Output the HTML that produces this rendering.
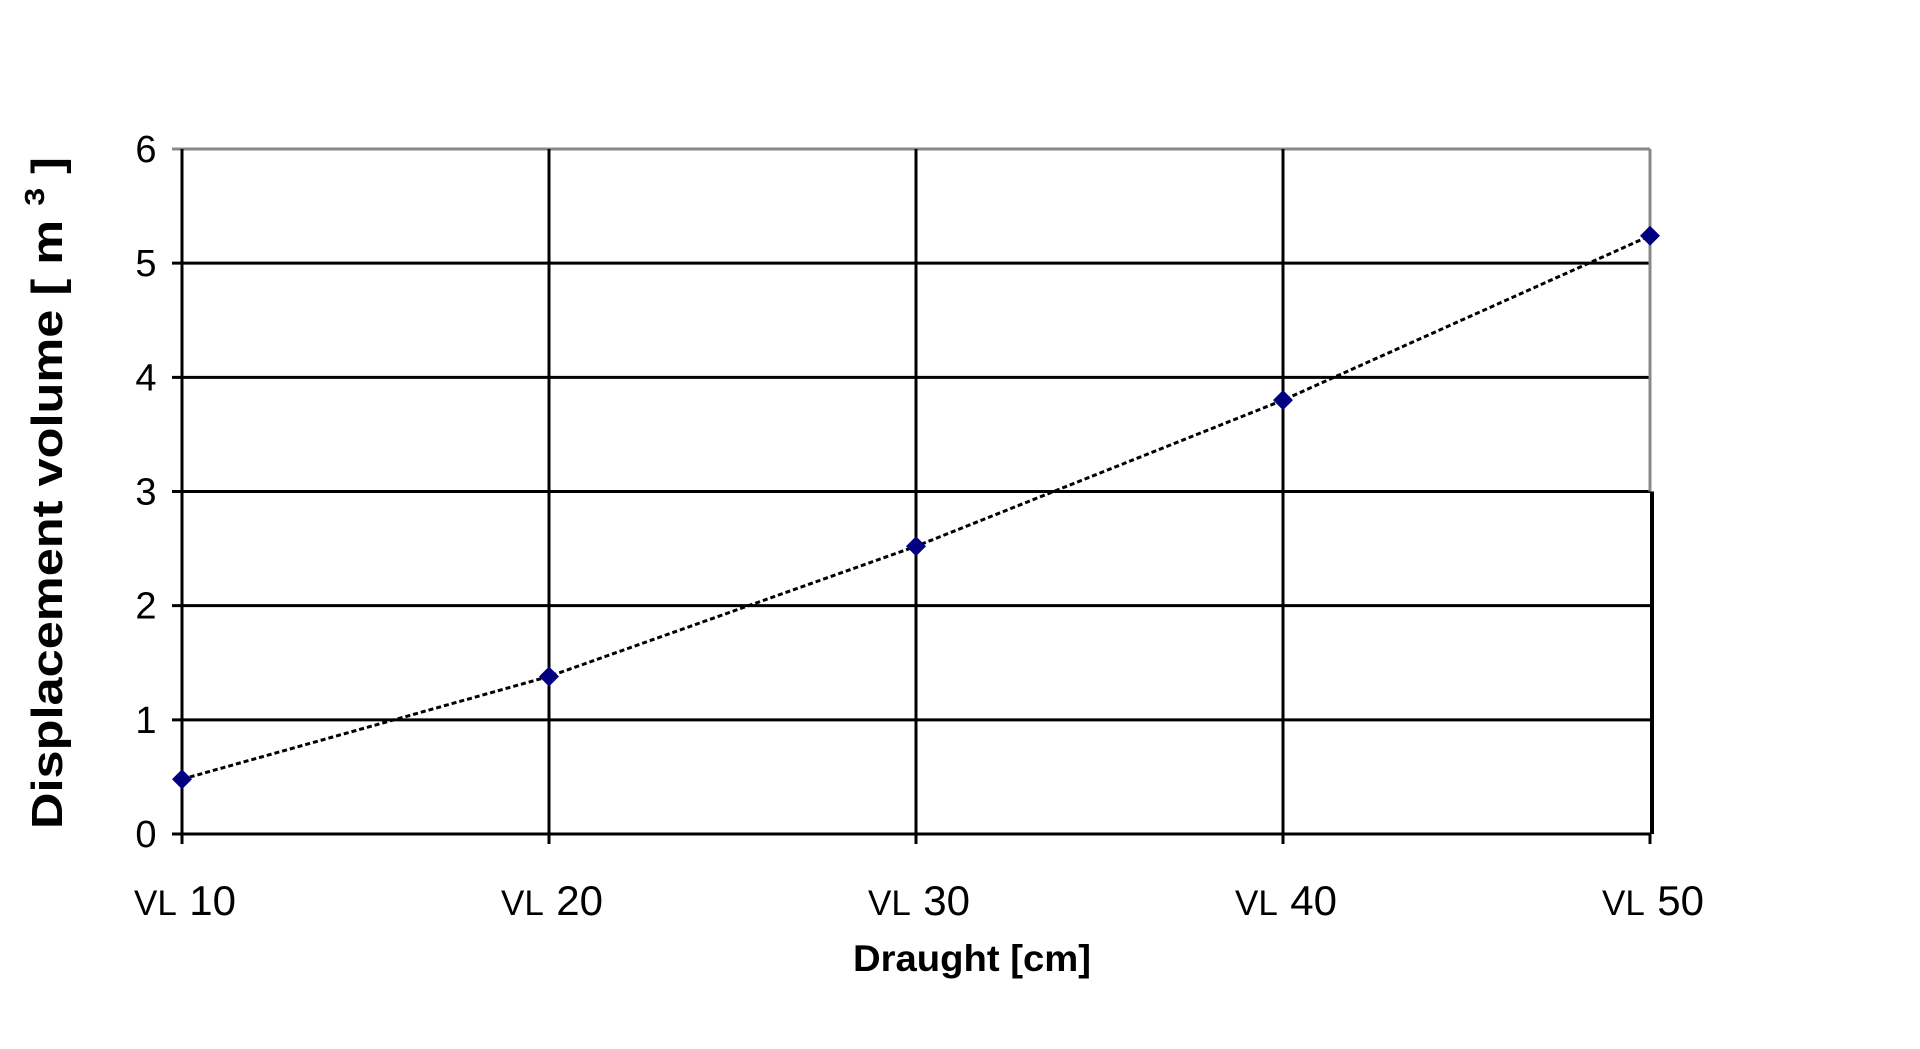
<!DOCTYPE html>
<html><head><meta charset="utf-8"><style>
html,body{margin:0;padding:0;background:#fff;}
svg{display:block;}
text{font-family:"Liberation Sans",Arial,sans-serif;fill:#000;}
</style></head><body>
<svg id="chart" width="1920" height="1049" viewBox="0 0 1920 1049" xmlns="http://www.w3.org/2000/svg">
<g id="grid"></g>
<g id="axes"></g>
<g id="series"></g>
<text x="972" y="971" text-anchor="middle" font-size="37" font-weight="bold" textLength="238" lengthAdjust="spacingAndGlyphs">Draught [cm]</text>
<text transform="translate(62,493) rotate(-90)" text-anchor="middle" font-size="44" font-weight="bold" textLength="672" lengthAdjust="spacingAndGlyphs">Displacement volume  [ m <tspan font-size="28" dy="-18">3</tspan><tspan dy="18"> ]</tspan></text>
</svg>
<script>
const categories = ["10", "20", "30", "40", "50"];
const values = [0.48, 1.38, 2.52, 3.8, 5.24];
const yTicks = [0, 1, 2, 3, 4, 5, 6];

const NS = "http://www.w3.org/2000/svg";
const X0 = 182, X1 = 1650, Y0 = 834, Y1 = 149, YMAX = 6;
function xPos(i){ return X0 + (X1 - X0) * i / (categories.length - 1); }
function yPos(v){ return Y0 - (Y0 - Y1) * v / YMAX; }
function mk(tag, attrs, parent){
  const el = document.createElementNS(NS, tag);
  for (const k in attrs) el.setAttribute(k, attrs[k]);
  parent.appendChild(el);
  return el;
}
const grid = document.getElementById('grid');
const axes = document.getElementById('axes');
const series = document.getElementById('series');

yTicks.forEach(function(t){
  const y = yPos(t);
  const top = t === YMAX;
  const ln = mk('line', {x1: X0 - 10, x2: X1, y1: y, y2: y, stroke: top ? '#888' : '#000', 'stroke-width': 3}, grid);
  
  
  const lb = mk('text', {x: 146, y: y + 13, 'text-anchor': 'middle', 'font-size': 38}, axes);
  lb.textContent = t;
  
  
});

categories.forEach(function(c, i){
  const x = xPos(i);
  const last = i === categories.length - 1;
  if (last) {
    const g1 = mk('line', {x1: x, x2: x, y1: Y1, y2: yPos(3), stroke: '#888', 'stroke-width': 3}, grid);
    
    
    const g2 = mk('line', {x1: x + 2, x2: x + 2, y1: yPos(3), y2: Y0, stroke: '#000', 'stroke-width': 4}, grid);
    
    
    const tk = mk('line', {x1: x, x2: x, y1: Y0, y2: Y0 + 10, stroke: '#000', 'stroke-width': 3}, grid);
    
    
  } else {
    const g = mk('line', {x1: x, x2: x, y1: Y1, y2: Y0 + 10, stroke: '#000', 'stroke-width': 3}, grid);
    
    
  }
  const lb = mk('text', {x: x - 48, y: 915}, axes);
  
  
  const a = mk('tspan', {'font-size': 35}, lb); a.textContent = 'VL ';
  const b = mk('tspan', {'font-size': 42, dx: 4}, lb); b.textContent = c;
});

let pts = values.map(function(v, i){ return xPos(i) + ',' + yPos(v); }).join(' ');
const pl = mk('polyline', {points: pts, fill: 'none', stroke: '#000', 'stroke-width': 3, 'stroke-dasharray': '5 3'}, series);


values.forEach(function(v, i){
  const x = xPos(i), y = yPos(v);
  const m = mk('polygon', {points: (x-10)+','+y+' '+x+','+(y-10)+' '+(x+10)+','+y+' '+x+','+(y+10), fill: '#000080'}, series);
  
  
});
</script>
</body></html>
